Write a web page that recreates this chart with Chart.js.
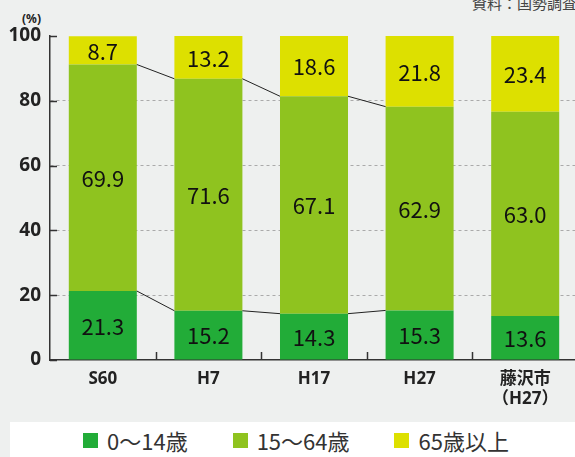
<!DOCTYPE html>
<html lang="ja">
<head>
  <meta charset="UTF-8" />
  <title>年齢3区分別人口割合</title>
  <script src="https://cdn.jsdelivr.net/npm/chart.js"></script>
  <style>
    html, body { margin: 0; padding: 0; width: 575px; height: 457px; overflow: hidden; background: #eef0ef; }
    body { position: relative; font-family: "Noto Sans CJK JP", "Noto Sans", sans-serif; }
    #legendBox { position: absolute; left: 10px; top: 422px; width: 570px; height: 40px; background: #fff; }
    #legenda { position: absolute; left: 83px; top: 429px; display: flex; align-items: center; white-space: nowrap; }
    .item { display: flex; align-items: center; margin-right: 45px; font-size: 22px; line-height: 22px; color: #333; }
    .caixa { width: 15px; height: 15px; margin-right: 9px; }
    #fuente { position: absolute; left: 472px; top: -5px; font-size: 15px; line-height: 1; color: #444; white-space: nowrap; }
    #unidad { position: absolute; left: 22px; top: 10px; font-size: 12px; font-weight: bold; color: #222; font-family: "Noto Sans", sans-serif; }
    #grafico { position: absolute; left: 0; top: 0; }
  </style>
</head>
<body>

<div id="legendBox"></div>
<div id="legenda"></div>
<div id="fuente">資料：国勢調査</div>
<div id="unidad">(%)</div>
<canvas id="grafico" width="580" height="457"></canvas>

<script>
  // dados
  const categorias = ["S60", "H7", "H17", "H27", ["藤沢市", "（H27）"]];
  const jovens = [21.3, 15.2, 14.3, 15.3, 13.6];
  const adultos = [69.9, 71.6, 67.1, 62.9, 63.0];
  const idosos = [8.7, 13.2, 18.6, 21.8, 23.4];
  const nomesSeries = ["0〜14歳", "15〜64歳", "65歳以上"];
  const coresSeries = ["#22ac38", "#8fc31f", "#dde000"];
  const yTicks = [0, 20, 40, 60, 80, 100];
  const nLigados = 4; // só as barras do mesmo município têm linhas de ligação

  const FONTE = '"Noto Sans CJK JP", "Noto Sans", sans-serif';
  const ALTURA = 457, BASE = 360;

  // rótulos no meio de cada segmento + linhas entre barras + marcas dos eixos
  const extras = {
    id: "extras",
    afterDatasetsDraw(chart) {
      const ctx = chart.ctx;
      const x = chart.scales.x, y = chart.scales.y;
      ctx.save();

      // linhas de ligação (topo de 0-14 e topo de 15-64)
      ctx.strokeStyle = "#222";
      ctx.lineWidth = 1;
      [0, 1].forEach(di => {
        const barras = chart.getDatasetMeta(di).data;
        for (let i = 0; i < nLigados - 1; i++) {
          const a = barras[i], b = barras[i + 1];
          ctx.beginPath();
          ctx.moveTo(a.x + a.width / 2, a.y);
          ctx.lineTo(b.x - b.width / 2, b.y);
          ctx.stroke();
        }
      });

      // valores
      ctx.fillStyle = "#111";
      ctx.font = "22px " + FONTE;
      ctx.textAlign = "center";
      ctx.textBaseline = "middle";
      chart.data.datasets.forEach((ds, di) => {
        chart.getDatasetMeta(di).data.forEach((bar, i) => {
          ctx.fillText(ds.data[i].toFixed(1), bar.x, (bar.y + bar.base) / 2 + 1);
        });
      });

      // marcas do eixo y (para dentro)
      ctx.strokeStyle = "#333";
      ctx.lineWidth = 1.5;
      yTicks.forEach(v => {
        const py = Math.round(y.getPixelForValue(v)) + 0.5;
        ctx.beginPath();
        ctx.moveTo(x.left, py);
        ctx.lineTo(x.left + 7, py);
        ctx.stroke();
      });

      // marcas do eixo x entre categorias (para cima)
      for (let i = 1; i < categorias.length; i++) {
        const px = Math.round((x.getPixelForValue(i - 1) + x.getPixelForValue(i)) / 2) + 0.5;
        ctx.beginPath();
        ctx.moveTo(px, y.bottom);
        ctx.lineTo(px, y.bottom - 8);
        ctx.stroke();
      }
      ctx.restore();
    }
  };

  const ctx = document.getElementById("grafico").getContext("2d");
  const grafico = new Chart(ctx, {
    type: "bar",
    data: {
      labels: categorias,
      datasets: [jovens, adultos, idosos].map((d, i) => ({
        label: nomesSeries[i],
        data: d,
        backgroundColor: coresSeries[i],
        borderWidth: 0,
        barPercentage: 0.644,
        categoryPercentage: 1
      }))
    },
    options: {
      responsive: false,
      animation: false,
      layout: { padding: { top: 36, right: 2, left: 0, bottom: 0 } },
      plugins: {
        tooltip: { enabled: false },
        legend: { display: false }
      },
      scales: {
        x: {
          stacked: true,
          grid: { display: false, drawTicks: false },
          border: { display: true, color: "#333", width: 1.5 },
          ticks: {
            color: "#222",
            padding: 9,
            font: { family: '"Noto Sans", ' + FONTE, size: 17, weight: "bold", lineHeight: 1.2 }
          },
          afterFit(s) { s.height = ALTURA - BASE; }
        },
        y: {
          stacked: true,
          min: 0,
          max: 100,
          afterBuildTicks(s) { s.ticks = yTicks.map(v => ({ value: v })); },
          grid: {
            drawTicks: false,
            color: c => (c.tick.value === 0 || c.tick.value === 100) ? "rgba(0,0,0,0)" : "#aaa",
            lineWidth: 1
          },
          border: { display: true, color: "#333", width: 1.5, dash: [3, 3] },
          ticks: {
            color: "#222",
            padding: 9,
            font: { family: '"Noto Sans", ' + FONTE, size: 19, weight: "bold" }
          },
          afterFit(s) { s.width = 50; }
        }
      }
    },
    plugins: [extras]
  });

  // legenda em HTML a partir das séries do gráfico
  const legenda = document.getElementById("legenda");
  grafico.data.datasets.forEach(ds => {
    const item = document.createElement("div");
    item.className = "item";
    const caixa = document.createElement("span");
    caixa.className = "caixa";
    caixa.style.backgroundColor = ds.backgroundColor;
    const texto = document.createElement("span");
    texto.innerText = ds.label;
    item.appendChild(caixa);
    item.appendChild(texto);
    legenda.appendChild(item);
  });
</script>

</body>
</html>
